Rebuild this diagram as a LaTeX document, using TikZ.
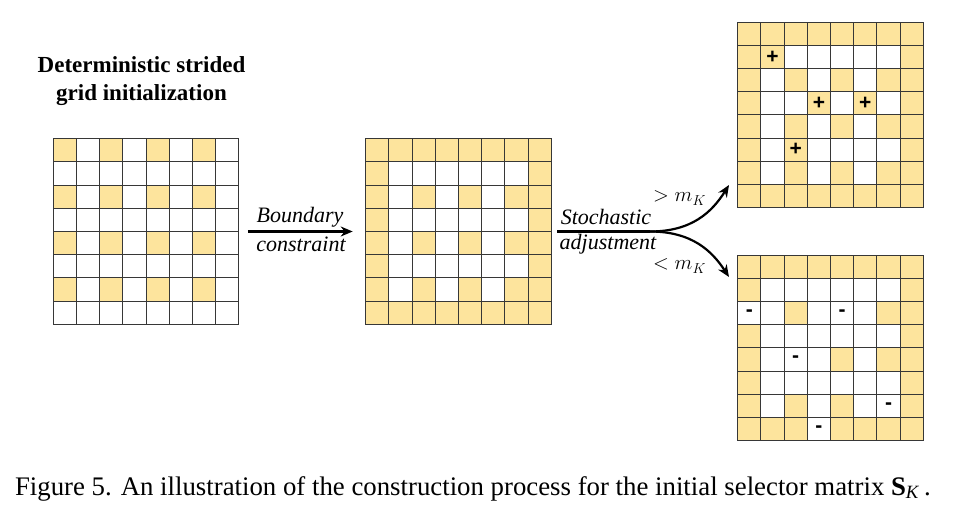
\documentclass[tikz,border=0pt]{standalone}
\usepackage{fontspec}
\setmainfont{Liberation Serif}
\newfontfamily\markfont{Liberation Sans}
\usetikzlibrary{arrows.meta}

\definecolor{cellyellow}{RGB}{253,228,157}
\definecolor{gridgray}{RGB}{55,55,55}

\newcommand{\cs}{23.2}

% paint the listed cells (row/column, row 0 on top) of a grid node
\newcommand{\paintcells}[3]{%
  \begin{scope}[shift={(#1.north west)}]
    \foreach \r/\c in {#3}
      \fill[#2] (\c*\cs,\r*\cs) rectangle ++(\cs,\cs);
  \end{scope}}
% paint the whole outer ring of a grid node
\newcommand{\paintring}[1]{%
  \begin{scope}[shift={(#1.north west)}]
    \foreach \i in {0,...,7}{
      \fill[cellyellow] (\i*\cs,0) rectangle ++(\cs,\cs);
      \fill[cellyellow] (\i*\cs,7*\cs) rectangle ++(\cs,\cs);
      \fill[cellyellow] (0,\i*\cs) rectangle ++(\cs,\cs);
      \fill[cellyellow] (7*\cs,\i*\cs) rectangle ++(\cs,\cs);
    }
  \end{scope}}
% grid lines of a grid node
\newcommand{\gridlines}[1]{%
  \begin{scope}[shift={(#1.north west)}]
    \foreach \i in {0,...,8}{
      \draw[gridline] (\i*\cs,0) -- (\i*\cs,8*\cs);
      \draw[gridline] (0,\i*\cs) -- (8*\cs,\i*\cs);
    }
  \end{scope}}
% marks (+ or -) in cells of a grid node
\newcommand{\cellmarks}[3]{%
  \begin{scope}[shift={(#1.north west)}]
    \foreach \r/\c in {#3}
      \node[cellmark] at ({(\c+0.5)*\cs},{(\r+0.5)*\cs}) {#2};
  \end{scope}}

\tikzset{
  gridbox/.style={minimum size=185.6pt, inner sep=0pt, outer sep=0pt, fill=white},
  gridline/.style={draw=gridgray, line width=1pt, line cap=rect},
  cellmark/.style={font=\markfont\bfseries\fontsize{21}{21}\selectfont, inner sep=0pt},
  flow/.style={line width=2.2pt, -{Stealth[length=12pt,width=10pt]}},
  steplabel/.style={font=\itshape\fontsize{22}{22}\selectfont, inner sep=0pt, anchor=base},
  condlabel/.style={font=\fontsize{21}{21}\selectfont, inner sep=0pt, anchor=base west},
}

\begin{document}
\begin{tikzpicture}[x=1pt,y=-1pt]
  \useasboundingbox (0,0) rectangle (956,521);

  % the four 8x8 selector grids
  \node[gridbox] (g1) at (146,231.5) {};
  \node[gridbox] (g2) at (458.5,231.5) {};
  \node[gridbox] (g3) at (830.5,115) {};
  \node[gridbox] (g4) at (830.5,348) {};

  % strided initialization
  \paintcells{g1}{cellyellow}{0/0,0/2,0/4,0/6,2/0,2/2,2/4,2/6,4/0,4/2,4/4,4/6,6/0,6/2,6/4,6/6}
  % boundary constraint
  \paintring{g2}
  \paintcells{g2}{cellyellow}{2/2,2/4,2/6,4/2,4/4,4/6,6/2,6/4,6/6}
  % cells added
  \paintring{g3}
  \paintcells{g3}{cellyellow}{1/1,2/2,2/4,2/6,3/3,3/5,4/2,4/4,4/6,5/2,6/2,6/4,6/6}
  % cells removed
  \paintring{g4}
  \paintcells{g4}{white}{2/0,7/3}
  \paintcells{g4}{cellyellow}{2/2,2/6,4/4,4/6,6/2,6/4}

  \gridlines{g1}
  \gridlines{g2}
  \gridlines{g3}
  \gridlines{g4}

  \cellmarks{g3}{+}{1/1,3/3,3/5,5/2}
  \cellmarks{g4}{-}{2/0,2/4,4/2,6/6,7/3}

  % title of the first grid
  \node[font=\bfseries\fontsize{23}{28}\selectfont, align=center, anchor=base,
        inner sep=0pt] (title) at (141.5,101)
        {Deterministic strided\\grid initialization};

  % boundary step
  \draw[flow, shorten <=9pt, shorten >=13pt] (g1.east) -- (g2.west);
  \node[steplabel] (b1) at (300,223) {Boundary};
  \node[steplabel] (b2) at (301,252) {constraint};

  % stochastic step, splitting in two
  \coordinate (split) at (650,231.5);
  \coordinate (upend) at (729,185);
  \coordinate (downend) at (729,277);
  \draw[line width=2.2pt, shorten <=6pt] (g2.east) -- (split);
  \draw[flow] (split) .. controls (692,231.5) and (712,212) .. (upend);
  \draw[flow] (split) .. controls (692,231.5) and (712,251) .. (downend);
  \node[steplabel] (s1) at (606,225) {Stochastic};
  \node[steplabel] (s2) at (608,250) {adjustment};
  \node[condlabel] (c1) at (653,202) {$>m_K$};
  \node[condlabel] (c2) at (653,270) {$<m_K$};

  % caption
  \node[font=\fontsize{26.8}{26.8}\selectfont, anchor=base, inner sep=0pt] (cap) at (473,495)
    {Figure 5. An illustration of the construction process for the initial selector matrix \textbf{S}\textsubscript{\textit{K}}\,.};
\end{tikzpicture}
\end{document}
